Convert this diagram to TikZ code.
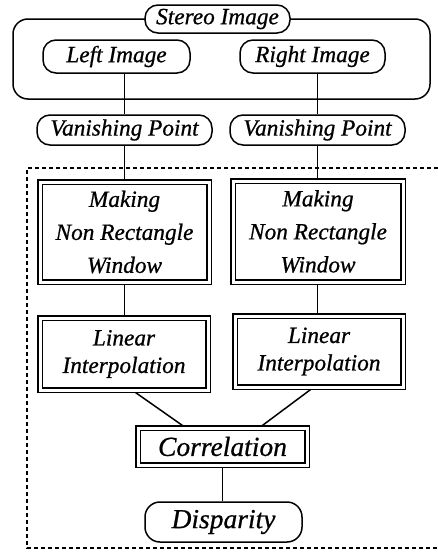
\documentclass[tikz,border=0pt]{standalone}
\usepackage{fontspec}
\setmainfont{Liberation Serif}[ItalicFeatures={FakeBold=0.7}]
\usetikzlibrary{backgrounds}
\begin{document}
\begin{tikzpicture}[x=1pt,y=-1pt,line width=1.5pt,
  txt/.style={font=\itshape\fontsize{23.3}{33}\selectfont},
  bigtxt/.style={font=\itshape\fontsize{27.5}{30}\selectfont},
  pill/.style={draw,rectangle,rounded corners=13pt,fill=white,inner sep=0pt,txt},
  dbox/.style={draw,double,double distance=3pt,fill=white,inner sep=0pt,align=center},
  link/.style={line width=1.5pt},
  frame/.style={line width=1.5pt,dash pattern=on 4pt off 3pt}]
\useasboundingbox (0,0) rectangle (438,554);

% stereo image group
\node[draw,rounded corners=15pt,minimum width=417pt,minimum height=80pt,inner sep=0pt] (grp) at (221.5,59) {};
\node[pill,minimum width=145pt,minimum height=28pt] (st) at (217.5,19) {Stereo Image};
\node[pill,minimum width=147pt,minimum height=33pt] (li) at (116.5,56.5) {Left Image};
\node[pill,minimum width=145pt,minimum height=33pt] (ri) at (312.5,56.5) {Right Image};

% vanishing points
\node[pill,minimum width=175pt,minimum height=30pt] (vpl) at (124.5,130) {Vanishing Point};
\node[pill,minimum width=175pt,minimum height=30pt] (vpr) at (317.5,130) {Vanishing Point};

% window boxes
\node[dbox,txt,minimum width=169pt,minimum height=100pt] (mwl) at (124.5,232) {Making\\Non Rectangle\\Window};
\node[dbox,txt,minimum width=170pt,minimum height=101pt] (mwr) at (318,231.5) {Making\\Non Rectangle\\Window};

% interpolation boxes
\node[dbox,txt,font=\itshape\fontsize{23.3}{27.5}\selectfont,minimum width=168pt,minimum height=72pt] (ipl) at (124,354) {Linear\\Interpolation};
\node[dbox,txt,font=\itshape\fontsize{23.3}{27.5}\selectfont,minimum width=168pt,minimum height=71pt] (ipr) at (319,351.5) {Linear\\Interpolation};

% correlation and result
\node[dbox,bigtxt,minimum width=169pt,minimum height=37pt] (cor) at (222.5,446.5) {Correlation};
\node[pill,bigtxt,rounded corners=15pt,minimum width=157pt,minimum height=40pt] (dis) at (223.5,522) {Disparity};

% dashed frame, open on the right
\coordinate (ftr) at (438,168);
\coordinate (ftl) at (27,168);
\coordinate (fbl) at (27,548);
\coordinate (fbr) at (438,548);
\draw[frame] (ftr) -- (ftl) -- (fbl) -- (fbr);

\begin{pgfonlayer}{background}
\draw[link] (vpl.north) -- (vpl.north |- li.south);
\draw[link] (vpr.north) -- (vpr.north |- ri.south);
\draw[link] (vpl.south) -- (mwl.north);
\draw[link] (vpr.south) -- (mwr.north -| vpr.south);
\draw[link] (mwl.south) -- (ipl.north -| mwl.south);
\draw[link] (mwr.south -| vpr.south) -- (ipr.north -| vpr.south);
\draw[link] ([xshift=9pt]ipl.south) -- ([xshift=-37.5pt]cor.north);
\draw[link] ([xshift=-6pt]ipr.south) -- ([xshift=37.5pt]cor.north);
\draw[link] (cor.south) -- (dis.north -| cor.south);
\end{pgfonlayer}
\end{tikzpicture}
\end{document}
